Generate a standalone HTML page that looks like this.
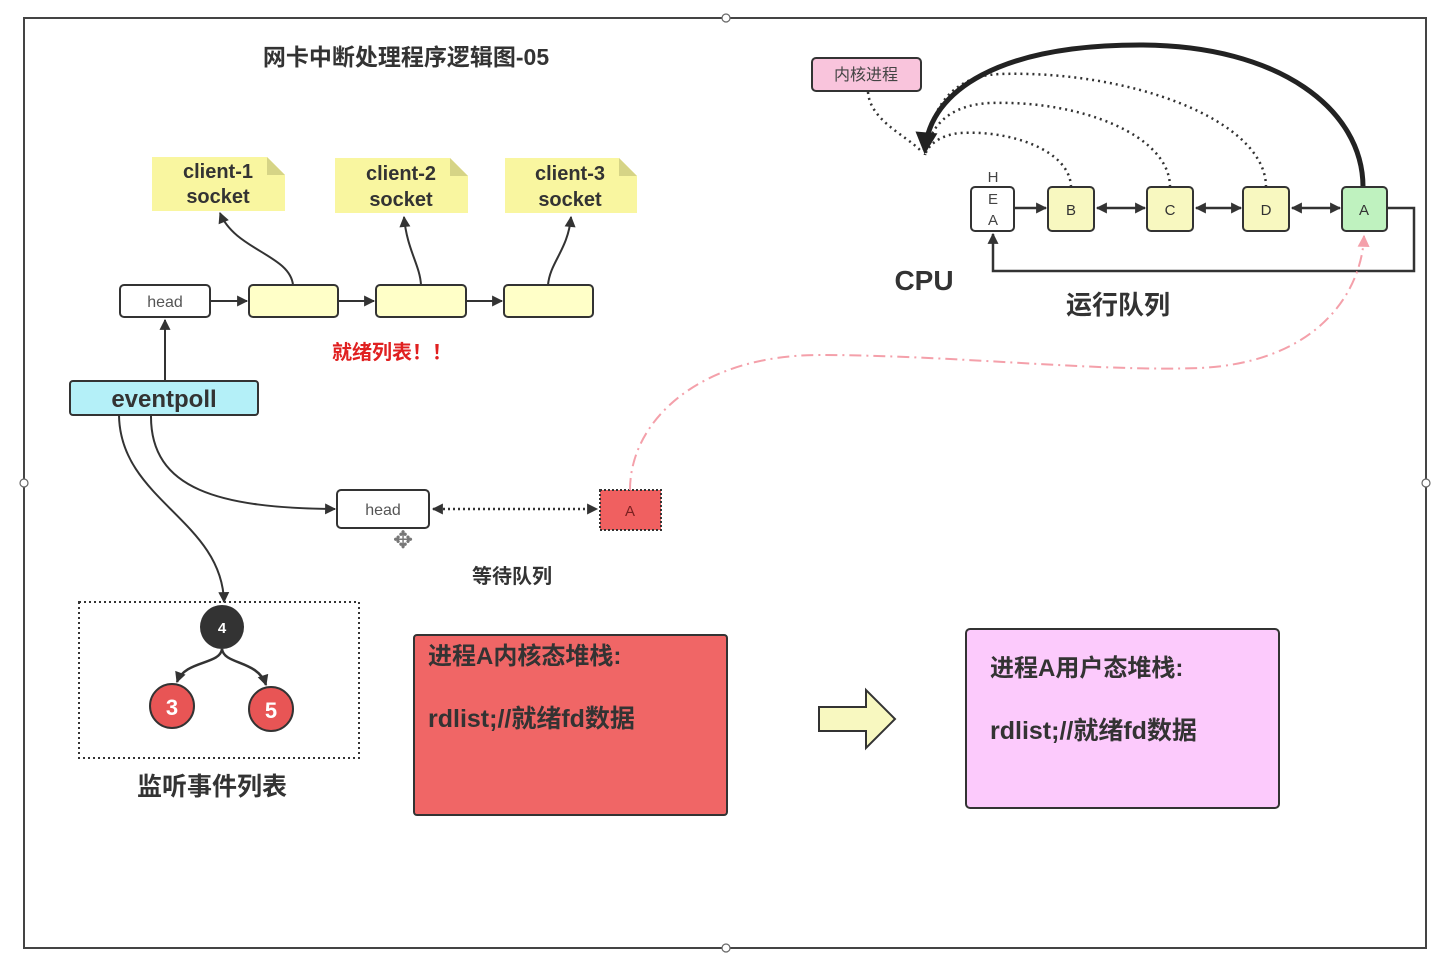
<!DOCTYPE html>
<html><head><meta charset="utf-8"><style>
html,body{margin:0;padding:0;background:#fff;width:1434px;height:954px;overflow:hidden}
svg{display:block}
text{font-family:"Liberation Sans","Noto Sans CJK SC",sans-serif;fill:#333}
</style></head><body>
<svg width="1434" height="954" viewBox="0 0 1434 954" xmlns="http://www.w3.org/2000/svg">
<defs>
<marker id="ar" viewBox="0 0 10 10" refX="9" refY="5" markerWidth="13" markerHeight="11" orient="auto-start-reverse" markerUnits="userSpaceOnUse"><path d="M0,0L10,5L0,10Z" fill="#333"/></marker>
<marker id="arB" viewBox="0 0 10 10" refX="8" refY="5" markerWidth="24" markerHeight="22" orient="auto" markerUnits="userSpaceOnUse"><path d="M0,0L10,5L0,10Z" fill="#222"/></marker>
<marker id="arP" viewBox="0 0 10 10" refX="9" refY="5" markerWidth="14" markerHeight="12" orient="auto" markerUnits="userSpaceOnUse"><path d="M0,0L10,5L0,10Z" fill="#f4a0aa"/></marker>
</defs>
<rect x="24" y="18" width="1402" height="930" fill="#fff" stroke="#444" stroke-width="2"/>
<g fill="#fff" stroke="#666" stroke-width="1.2">
<circle cx="726" cy="18" r="4"/><circle cx="24" cy="483" r="4"/><circle cx="1426" cy="483" r="4"/><circle cx="726" cy="948" r="4"/>
</g>
<text x="406" y="65" font-size="23" font-weight="bold" text-anchor="middle">网卡中断处理程序逻辑图-05</text>

<g fill="#f9f6a0">
<path d="M152,157H267L285,175V211H152Z"/><path d="M335,158H450L468,176V213H335Z"/><path d="M505,158H619L637,176V213H505Z"/>
</g>
<g fill="#d6d486"><path d="M267,157L285,175H267Z"/><path d="M450,158L468,176H450Z"/><path d="M619,158L637,176H619Z"/></g>
<g font-size="20" font-weight="bold" text-anchor="middle">
<text x="218" y="178">client-1</text><text x="218" y="203">socket</text>
<text x="401" y="180">client-2</text><text x="401" y="206">socket</text>
<text x="570" y="180">client-3</text><text x="570" y="206">socket</text>
</g>

<g stroke="#333" stroke-width="2">
<rect x="120" y="285" width="90" height="32" rx="4" fill="#fff"/>
<rect x="249" y="285" width="89" height="32" rx="4" fill="#ffffc8"/>
<rect x="376" y="285" width="90" height="32" rx="4" fill="#ffffc8"/>
<rect x="504" y="285" width="89" height="32" rx="4" fill="#ffffc8"/>
</g>
<text x="165" y="307" font-size="16" text-anchor="middle" style="fill:#555">head</text>
<g stroke="#333" stroke-width="2" fill="none" marker-end="url(#ar)">
<path d="M210,301H247"/><path d="M338,301H374"/><path d="M466,301H502"/>
<path d="M293,285C290,255 235,250 220,213"/>
<path d="M421,285C420,265 407,250 404,217"/>
<path d="M548,285C550,262 568,250 571,217"/>
<path d="M165,381V320"/>
</g>
<text x="392" y="359" font-size="20" font-weight="bold" text-anchor="middle" style="fill:#e02020">就绪列表！！</text>

<rect x="70" y="381" width="188" height="34" rx="3" fill="#b4f0f8" stroke="#333" stroke-width="2"/>
<text x="164" y="407" font-size="24" font-weight="bold" text-anchor="middle">eventpoll</text>

<g stroke="#333" stroke-width="2" fill="none" marker-end="url(#ar)">
<path d="M151,415C150,490 220,508 335,509"/>
<path d="M119,415C120,500 222,520 224,602"/>
</g>
<rect x="337" y="490" width="92" height="38" rx="4" fill="#fff" stroke="#333" stroke-width="2"/>
<text x="383" y="515" font-size="16" text-anchor="middle" style="fill:#555">head</text>
<path d="M433,509H597" stroke="#333" stroke-width="2.5" stroke-dasharray="2,3" fill="none" marker-end="url(#ar)" marker-start="url(#ar)"/>
<rect x="600" y="490" width="61" height="40" fill="#f06060" stroke="#333" stroke-width="2" stroke-dasharray="2,2"/>
<text x="630" y="516" font-size="15" text-anchor="middle" style="fill:#7a2020">A</text>
<text x="403" y="548" font-size="24" text-anchor="middle" style="fill:#777">✥</text>
<text x="512" y="583" font-size="20" font-weight="bold" text-anchor="middle">等待队列</text>

<rect x="79" y="602" width="280" height="156" fill="none" stroke="#333" stroke-width="2" stroke-dasharray="2,3"/>
<g stroke="#333" stroke-width="2.5" fill="none" marker-end="url(#ar)">
<path d="M222,649C220,665 185,660 177,682"/><path d="M222,649C224,665 258,660 266,685"/>
</g>
<circle cx="222" cy="627" r="22" fill="#333"/>
<text x="222" y="633" font-size="15" font-weight="bold" text-anchor="middle" style="fill:#fff">4</text>
<circle cx="172" cy="706" r="22" fill="#e85555" stroke="#333" stroke-width="2"/>
<text x="172" y="715" font-size="22" font-weight="bold" text-anchor="middle" style="fill:#fff">3</text>
<circle cx="271" cy="709" r="22" fill="#e85555" stroke="#333" stroke-width="2"/>
<text x="271" y="718" font-size="22" font-weight="bold" text-anchor="middle" style="fill:#fff">5</text>
<text x="212" y="795" font-size="25" font-weight="bold" text-anchor="middle">监听事件列表</text>

<rect x="414" y="635" width="313" height="180" rx="3" fill="#f06666" stroke="#333" stroke-width="2"/>
<text x="428" y="664" font-size="24" font-weight="bold">进程A内核态堆栈:</text>
<text x="428" y="727" font-size="25" font-weight="bold">rdlist;//就绪fd数据</text>
<path d="M819,707H866V690L895,719L866,748V731H819Z" fill="#f8f8c0" stroke="#333" stroke-width="2"/>
<rect x="966" y="629" width="313" height="179" rx="4" fill="#fccafc" stroke="#333" stroke-width="2"/>
<text x="990" y="676" font-size="24" font-weight="bold">进程A用户态堆栈:</text>
<text x="990" y="739" font-size="25" font-weight="bold">rdlist;//就绪fd数据</text>

<rect x="812" y="58" width="109" height="33" rx="4" fill="#f9c4dc" stroke="#333" stroke-width="2"/>
<text x="866" y="80" font-size="16" text-anchor="middle" style="fill:#444">内核进程</text>
<g stroke="#333" stroke-width="2.5" fill="none" stroke-dasharray="2,4">
<path d="M868,92C870,120 905,135 920,150"/>
<path d="M1071,187C1070,150 1010,130 960,133C940,135 928,145 925,155"/>
<path d="M1170,187C1170,135 1080,100 990,103C950,105 930,125 925,155"/>
<path d="M1266,187C1266,120 1130,70 1000,74C950,76 930,110 925,155"/>
</g>
<path d="M1363,187C1363,110 1280,45 1140,45C1000,45 930,90 925,150" stroke="#222" stroke-width="5" fill="none" marker-end="url(#arB)"/>
<g stroke="#333" stroke-width="2">
<rect x="971" y="187" width="43" height="44" rx="4" fill="#fff"/>
<rect x="1048" y="187" width="46" height="44" rx="4" fill="#f8f8c0"/>
<rect x="1147" y="187" width="46" height="44" rx="4" fill="#f8f8c0"/>
<rect x="1243" y="187" width="46" height="44" rx="4" fill="#f8f8c0"/>
<rect x="1342" y="187" width="45" height="44" rx="4" fill="#bff2bf"/>
</g>
<g font-size="15" text-anchor="middle" style="fill:#444">
<text x="993" y="182" style="fill:#444">H</text><text x="993" y="204" style="fill:#444">E</text><text x="993" y="225" style="fill:#444">A</text>
<text x="1071" y="215">B</text><text x="1170" y="215">C</text><text x="1266" y="215">D</text><text x="1364" y="215">A</text>
</g>
<g stroke="#333" stroke-width="2.5" fill="none">
<path d="M1014,208H1046" marker-end="url(#ar)"/>
<path d="M1097,208H1145" marker-end="url(#ar)" marker-start="url(#ar)"/>
<path d="M1196,208H1241" marker-end="url(#ar)" marker-start="url(#ar)"/>
<path d="M1292,208H1340" marker-end="url(#ar)" marker-start="url(#ar)"/>
<path d="M1387,208H1414V271H993V234" marker-end="url(#ar)"/>
</g>
<text x="924" y="290" font-size="28" font-weight="bold" text-anchor="middle">CPU</text>
<text x="1118" y="314" font-size="26" font-weight="bold" text-anchor="middle">运行队列</text>

<path d="M630,490C630,420 700,355 820,355C950,355 1100,372 1200,368C1320,362 1362,290 1364,236" stroke="#f4a0aa" stroke-width="2" fill="none" stroke-dasharray="12,5,2,5" marker-end="url(#arP)"/>
</svg>
</body></html>
